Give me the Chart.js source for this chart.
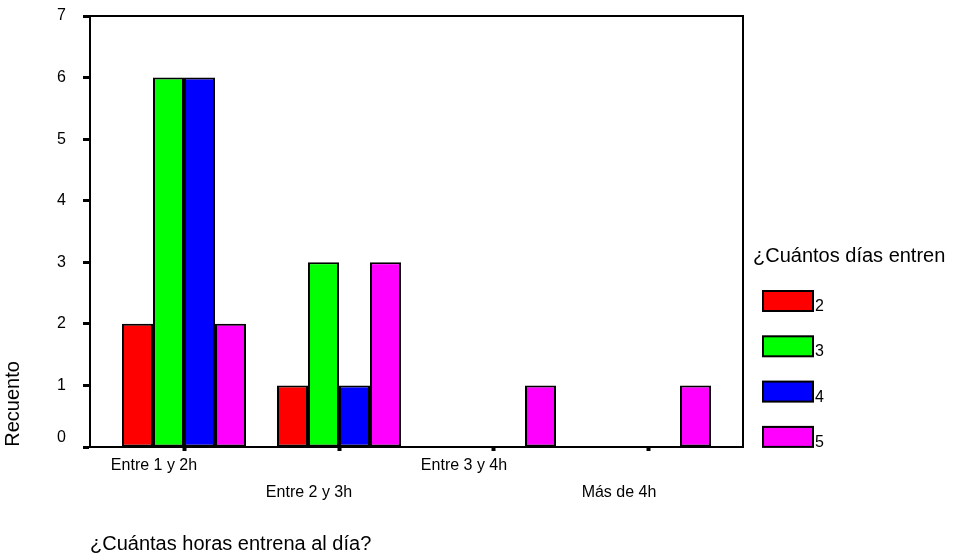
<!DOCTYPE html>
<html>
<head>
<meta charset="utf-8">
<script src="https://cdn.jsdelivr.net/npm/chart.js@4/dist/chart.umd.min.js"></script>
<style>
  html, body { margin: 0; padding: 0; background: #fff; }
  #wrap { width: 954px; height: 555px; position: relative; }
</style>
</head>
<body>
<div id="wrap"><canvas id="c" width="954" height="555"></canvas></div>
<script>
// ---- data ----
const categories = ['Entre 1 y 2h', 'Entre 2 y 3h', 'Entre 3 y 4h', 'Más de 4h'];
const seriesLabels = ['2', '3', '4', '5'];
const dias2 = [2, 1, 0, 0];
const dias3 = [6, 3, 0, 0];
const dias4 = [6, 1, 0, 0];
const dias5 = [2, 3, 1, 1];
const yTickMin = 0;
const yTickMax = 7;
const xTitle = '¿Cuántas horas entrena al día?';
const yTitle = 'Recuento';
const legendTitle = '¿Cuántos días entren';

const seriesValues = [dias2, dias3, dias4, dias5];
const seriesColors = ['#ff0000', '#00ff00', '#0000ff', '#ff00ff'];
const FONT = "'Liberation Sans', Arial, sans-serif";

const datasets = seriesValues.map((vals, s) => ({
  label: seriesLabels[s],
  data: vals.map((v, i) => ({ x: i, y: v })),
  backgroundColor: seriesColors[s],
  borderColor: '#000',
  borderWidth: 2,
  borderSkipped: false,
  categoryPercentage: 0.8,
  barPercentage: 1.0
}));

const framePlugin = {
  id: 'frame',
  afterDatasetsDraw(chart) {
    const { ctx, chartArea: a } = chart;
    ctx.save();
    ctx.strokeStyle = '#000';
    ctx.lineWidth = 2;
    ctx.beginPath();
    ctx.moveTo(a.left, a.top);
    ctx.lineTo(a.right, a.top);
    ctx.lineTo(a.right, a.bottom);
    ctx.stroke();
    ctx.restore();
  },
  afterDraw(chart) {
    const { ctx } = chart;
    ctx.save();
    ctx.fillStyle = '#000';
    // axis titles
    ctx.font = '20px ' + FONT;
    ctx.textAlign = 'left';
    ctx.textBaseline = 'alphabetic';
    ctx.fillText(xTitle, 90, 550);
    ctx.save();
    ctx.translate(19, 404);
    ctx.rotate(-Math.PI / 2);
    ctx.textAlign = 'center';
    ctx.fillText(yTitle, 0, 0);
    ctx.restore();
    // legend
    ctx.fillText(legendTitle, 753, 262);
    chart.data.datasets.forEach((ds, i) => {
      const y = 291 + i * 45.3;
      ctx.fillStyle = ds.backgroundColor;
      ctx.fillRect(763, y, 50, 20);
      ctx.strokeStyle = '#000';
      ctx.lineWidth = 2;
      ctx.strokeRect(763, y, 50, 20);
      ctx.fillStyle = '#000';
      ctx.font = '16px ' + FONT;
      ctx.fillText(ds.label, 815, y + 20);
    });
    ctx.restore();
  }
};

new Chart(document.getElementById('c'), {
  type: 'bar',
  data: { datasets },
  options: {
    responsive: false,
    animation: false,
    devicePixelRatio: 1,
    layout: { padding: { top: 16, right: 211, left: 0, bottom: 0 } },
    plugins: { legend: { display: false }, tooltip: { enabled: false } },
    scales: {
      x: {
        type: 'linear',
        min: -0.6065,
        max: 3.6065,
        offset: false,
        afterBuildTicks(scale) {
          scale.ticks = categories.map((c, i) => ({ value: i }));
        },
        afterFit(scale) { scale.height = 108; scale.paddingLeft = 0; scale.paddingRight = 0; },
        grid: { offset: false, drawOnChartArea: false, drawTicks: true, tickLength: 4, tickWidth: 4, tickColor: '#000' },
        border: { display: true, color: '#000', width: 2 },
        ticks: {
          autoSkip: false,
          maxRotation: 0,
          padding: 1,
          labelOffset: -30,
          color: '#000',
          font: { family: FONT, size: 16, lineHeight: '27px' },
          callback: (v) => {
            const i = Math.round(v);
            const lab = categories[i];
            return i % 2 === 1 ? ['', lab] : lab;
          }
        }
      },
      y: {
        min: yTickMin,
        max: yTickMax,
        afterFit(scale) { scale.width = 90; scale.paddingTop = 0; scale.paddingBottom = 0; },
        grid: { drawOnChartArea: false, drawTicks: true, tickLength: 7, tickWidth: 3, tickColor: '#000' },
        border: { display: true, color: '#000', width: 2 },
        ticks: {
          stepSize: 1,
          padding: 17,
          color: '#000',
          font: { family: FONT, size: 16 },
          callback: (v) => (v === 0 ? ['0', ''] : String(v))
        }
      }
    }
  },
  plugins: [framePlugin]
});
</script>
</body>
</html>
